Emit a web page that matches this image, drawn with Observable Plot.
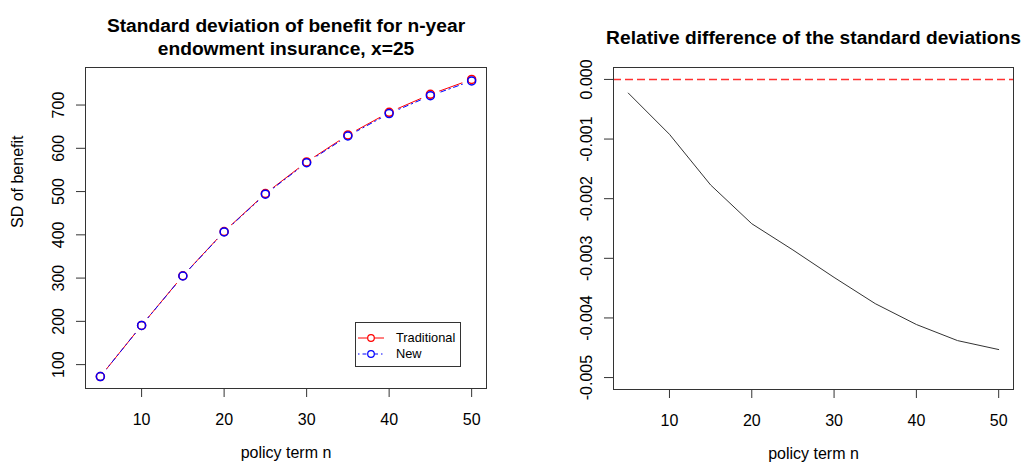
<!DOCTYPE html>
<html>
<head>
<meta charset="utf-8">
<script src="https://cdn.jsdelivr.net/npm/d3@7"></script>
<script src="https://cdn.jsdelivr.net/npm/@observablehq/plot@0.6"></script>
<style>
  body { margin: 0; background: #fff; }
  #wrap { position: relative; width: 1021px; height: 468px; overflow: hidden;
          font-family: "Liberation Sans", Arial, Helvetica, sans-serif; }
  #left, #right { position: absolute; top: 0; }
  #left { left: 0; }
  #right { left: 510px; }
  .legend { position: absolute; left: 355px; top: 322px; width: 106px; height: 45px;
            box-sizing: border-box; border: 1px solid #333; background: #fff;
            font-size: 12.8px; color: #000; }
  .legend .row { position: absolute; left: 2px; height: 14px; display: flex; align-items: center; }
  .legend .row svg { display: block; }
  .legend .row span { margin-left: 12px; line-height: 14px; }
</style>
</head>
<body>
<div id="wrap">
  <div id="left"></div>
  <div id="right"></div>
</div>
<script>
// Policy terms (years)
const terms = [5, 10, 15, 20, 25, 30, 35, 40, 45, 50];

// Standard deviation of the benefit, n-year endowment insurance, age x = 25
const sdTraditional = [72.3, 190.7, 305.4, 407.6, 495.3, 568.5, 630.8, 683.2, 724.7, 759.3];
const sdNew         = [72.28, 190.52, 304.86, 406.61, 493.88, 566.61, 628.43, 680.39, 721.53, 755.86];

// Relative difference of the two standard deviations
const relDiff = [-0.000229, -0.00092, -0.00177, -0.00242, -0.00286, -0.00332, -0.00376, -0.00411, -0.00438, -0.00453];

// Axis ticks
const xTicks = [10, 20, 30, 40, 50];
const sdTicks = [100, 200, 300, 400, 500, 600, 700];
const relTicks = [0, -0.001, -0.002, -0.003, -0.004, -0.005];
const relLimits = [-0.005, 0];

const FONT = '"Liberation Sans", Arial, Helvetica, sans-serif';
const AXIS_FS = 16;
const TITLE_FS = 19.2;

// R-style axis range: data extent widened by 4% on each side
function rRange(values) {
  const [lo, hi] = d3.extent(values);
  const pad = (hi - lo) * 0.04;
  return [lo - pad, hi + pad];
}

const trad = terms.map((n, i) => ({ n, sd: sdTraditional[i] }));
const newer = terms.map((n, i) => ({ n, sd: sdNew[i] }));
const rel = terms.map((n, i) => ({ n, d: relDiff[i] }));

const left = Plot.plot({
  width: 510, height: 468,
  marginLeft: 85, marginRight: 24, marginTop: 67, marginBottom: 80,
  style: { fontFamily: FONT, fontSize: AXIS_FS + "px", color: "#000", background: "#fff", overflow: "visible" },
  x: { domain: rRange(terms), label: null },
  y: { domain: rRange([...sdTraditional, ...sdNew]), label: null },
  marks: [
    Plot.axisX(xTicks, { tickSize: 9, tickPadding: 16, fontSize: AXIS_FS, label: null, stroke: "#333" }),
    Plot.axisY(sdTicks, { tickSize: 9, tickRotate: -90, tickPadding: 13, fontSize: AXIS_FS, label: null, stroke: "#333" }),
    Plot.line(trad, { x: "n", y: "sd", stroke: "#ff0000", strokeWidth: 1 }),
    Plot.line(newer, { x: "n", y: "sd", stroke: "#0000ff", strokeWidth: 1, strokeDasharray: "1.5,3.5,5,3.5" }),
    // type "b": the connecting lines stop short of each point
    Plot.dot([...trad, ...newer], { x: "n", y: "sd", r: 9.5, fill: "#fff" }),
    Plot.dot(trad, { x: "n", y: "sd", r: 4, stroke: "#ff0000", strokeWidth: 1.5 }),
    Plot.dot(newer, { x: "n", y: "sd", r: 4, stroke: "#0000ff", strokeWidth: 1.5 }),
    Plot.frame({ stroke: "#333" }),
    Plot.text(["Standard deviation of benefit for n-year"], { frameAnchor: "top", dy: -49.5, fontSize: TITLE_FS, fontWeight: "bold" }),
    Plot.text(["endowment insurance, x=25"], { frameAnchor: "top", dy: -26, fontSize: TITLE_FS, fontWeight: "bold" }),
    Plot.text(["policy term n"], { frameAnchor: "bottom", dy: 69.5, fontSize: AXIS_FS }),
    Plot.text(["SD of benefit"], { frameAnchor: "left", dx: -67.5, rotate: -90, fontSize: AXIS_FS })
  ]
});
document.getElementById("left").append(left);

const right = Plot.plot({
  width: 511, height: 468,
  marginLeft: 103, marginRight: 8, marginTop: 67, marginBottom: 79,
  style: { fontFamily: FONT, fontSize: AXIS_FS + "px", color: "#000", background: "#fff", overflow: "visible" },
  x: { domain: rRange(terms), label: null },
  y: { domain: rRange(relLimits), label: null },
  marks: [
    Plot.axisX(xTicks, { tickSize: 9, tickPadding: 16, fontSize: AXIS_FS, label: null, stroke: "#333" }),
    Plot.axisY(relTicks, { tickSize: 9, tickRotate: -90, tickPadding: 13, fontSize: AXIS_FS, label: null, stroke: "#333",
                           tickFormat: (d) => d.toFixed(3) }),
    Plot.ruleY([0], { stroke: "#ff3030", strokeWidth: 1.6, strokeDasharray: "8,4" }),
    Plot.line(rel, { x: "n", y: "d", stroke: "#333", strokeWidth: 1 }),
    Plot.frame({ stroke: "#333" }),
    Plot.text(["Relative difference of the standard deviations"], { frameAnchor: "top", dy: -37.5, fontSize: TITLE_FS, fontWeight: "bold" }),
    Plot.text(["policy term n"], { frameAnchor: "bottom", dy: 69.5, fontSize: AXIS_FS })
  ]
});
document.getElementById("right").append(right);

// Legend for the two series
const legend = document.createElement("div");
legend.className = "legend";
[
  { label: "Traditional", color: "#ff0000", dash: null, top: 8 },
  { label: "New", color: "#0000ff", dash: "1.5,3,4,3", top: 24 }
].forEach((s) => {
  const row = document.createElement("div");
  row.className = "row";
  row.style.top = s.top + "px";
  const sw = d3.create("svg").attr("width", 26).attr("height", 14);
  sw.append("line").attr("x1", 0).attr("x2", 26).attr("y1", 7).attr("y2", 7)
    .attr("stroke", s.color).attr("stroke-width", 1).attr("stroke-dasharray", s.dash);
  sw.append("circle").attr("cx", 13).attr("cy", 7).attr("r", 3.3)
    .attr("fill", "#fff").attr("stroke", s.color).attr("stroke-width", 1.2);
  row.append(sw.node());
  const t = document.createElement("span");
  t.textContent = s.label;
  row.append(t);
  legend.append(row);
});
document.getElementById("wrap").append(legend);
</script>
</body>
</html>
